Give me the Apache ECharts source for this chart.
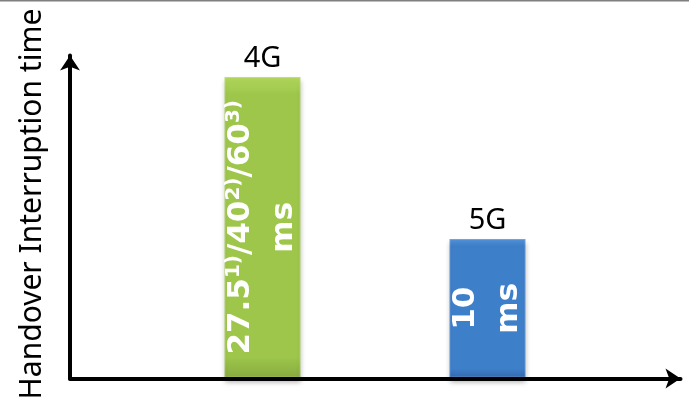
<!DOCTYPE html>
<html><head><meta charset="utf-8">
<script src="https://cdn.jsdelivr.net/npm/echarts@6/dist/echarts.min.js"></script>
<style>html,body{margin:0;padding:0;background:#fff}#c{width:689px;height:406px}</style>
</head><body><div id="c"></div>
<script>
// ---- data ----
const categories = ['4G', '5G'];
const barHeights = [91.5, 42.5];          // drawn bar heights (arbitrary units, axis 0..100)
const insideLabels = ['27.5^1)/40^2)/60^3)\nms', '10\nms'];
const yAxisTitle = 'Handover Interruption time';

// ---- styles ----
const barGradients = [
  ['#B4DA5E', '#9DC64B', '#86AA3E'],
  ['#5596DE', '#3E7FC9', '#3367AA']
];
function grad(i) {
  const g = barGradients[i];
  return new echarts.graphic.LinearGradient(0, 0, 0, 1, [
    {offset: 0, color: g[0]}, {offset: 0.06, color: g[1]}, {offset: 0.93, color: g[1]}, {offset: 1, color: g[2]}
  ]);
}
function toRich(s) {
  return s.replace(/\^(\d\))/g, '{s|$1}');
}

const chart = echarts.init(document.getElementById('c'), null, {renderer: 'canvas'});
const axisFrame = {
  show: true, type: 'value', min: 0, max: 1, z: 10,
  axisLine: {show: true, lineStyle: {color: '#000', width: 4}, symbol: ['none', 'arrow'], symbolSize: [15, 15]},
  axisTick: {show: false}, axisLabel: {show: false}, splitLine: {show: false}
};
chart.setOption({
  animation: false,
  grid: [
    {left: 70, right: 8.5, top: 55.5, bottom: 27.5},
    {left: 150, width: 450, top: 48, bottom: 27.5}
  ],
  xAxis: [
    Object.assign({gridIndex: 0}, axisFrame),
    {gridIndex: 1, type: 'category', data: categories, show: false}
  ],
  yAxis: [
    Object.assign({gridIndex: 0}, axisFrame),
    {gridIndex: 1, type: 'value', min: 0, max: 100, show: false}
  ],
  graphic: [
    {type: 'line', shape: {x1: 0, y1: 0.5, x2: 689, y2: 0.5}, style: {stroke: '#7f7f7f', lineWidth: 2}, z: 100},
    {type: 'text', x: 32, y: 204, rotation: Math.PI / 2,
     style: {text: yAxisTitle, fontSize: 30, fontFamily: 'Noto Sans', fill: '#000', align: 'center', verticalAlign: 'middle'}}
  ],
  series: [
    {
      type: 'bar', xAxisIndex: 1, yAxisIndex: 1, data: barHeights, barWidth: 78, barGap: '-100%',
      itemStyle: {
        color: p => grad(p.dataIndex),
        borderColor: 'rgba(255,255,255,0.18)', borderWidth: 2,
        shadowColor: 'rgba(0,0,0,0.3)', shadowBlur: 5, shadowOffsetY: 4
      },
      label: {
        show: true, position: 'top', distance: 3,
        formatter: p => categories[p.dataIndex],
        fontSize: 29, fontFamily: 'Noto Sans', color: '#000'
      }
    },
    {
      type: 'bar', xAxisIndex: 1, yAxisIndex: 1, data: barHeights, barWidth: 78, barGap: '-100%', silent: true,
      itemStyle: {color: 'rgba(0,0,0,0)'},
      label: {
        show: true, position: 'inside', rotate: 90,
        formatter: p => toRich(insideLabels[p.dataIndex]),
        fontSize: 31, fontWeight: 'bold', fontFamily: 'DejaVu Sans', color: '#fff', lineHeight: 43,
        rich: {
          s: {fontSize: 20, fontWeight: 'bold', fontFamily: 'DejaVu Sans', color: '#fff', padding: [0, 0, 14, 0]}
        }
      }
    }
  ]
});
</script>
</body></html>
